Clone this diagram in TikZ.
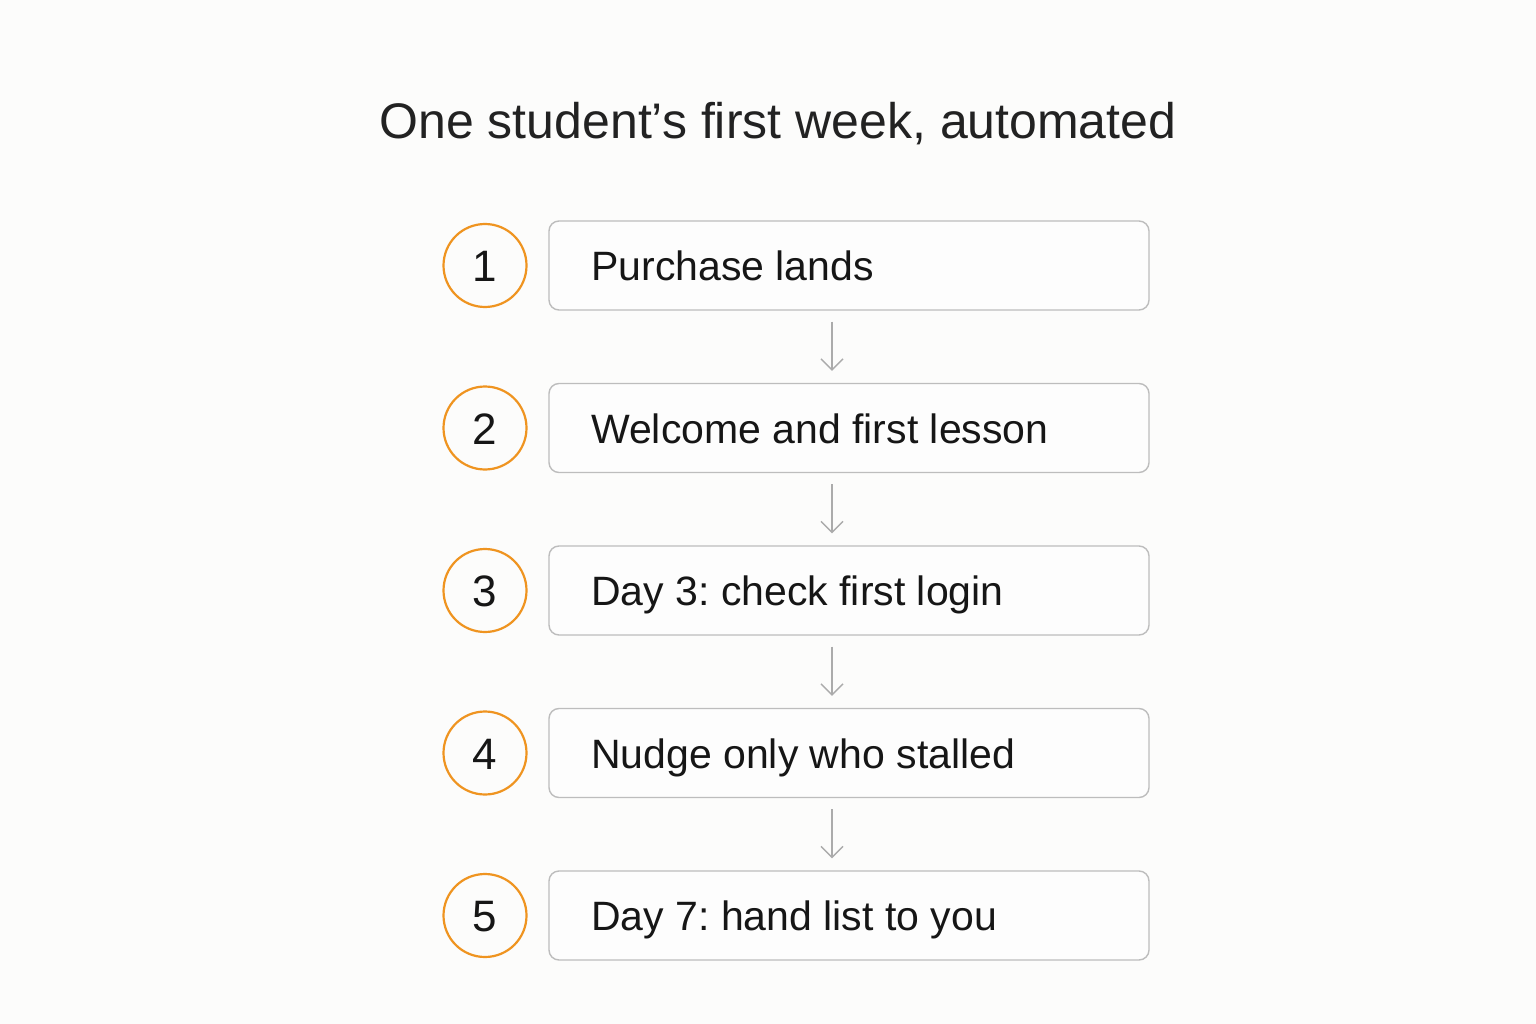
\documentclass[tikz,border=0pt]{standalone}
\usepackage{fontspec}
\setmainfont{Liberation Sans}
\usetikzlibrary{arrows.meta}
\frenchspacing
\definecolor{bgc}{HTML}{FCFCFB}
\definecolor{boxline}{HTML}{BDBDBD}
\definecolor{boxfill}{HTML}{FDFDFD}
\definecolor{orng}{HTML}{EF9420}
\definecolor{txt}{HTML}{161616}
\definecolor{arrc}{HTML}{ABABAB}
\tikzset{
  stepbox/.style={draw=boxline, line width=1.4pt, fill=boxfill, rounded corners=10pt,
    minimum width=600pt, minimum height=89pt, inner sep=0pt},
  numcirc/.style={circle, draw=orng, line width=2.2pt, minimum size=83pt, inner sep=0pt},
  boxtext/.style={anchor=base west, inner sep=0pt, text=txt, font=\fontsize{41}{48}\selectfont},
  numtext/.style={anchor=base, inner sep=0pt, text=txt, font=\fontsize{44}{50}\selectfont},
  arr/.style={draw=arrc, line width=1.4pt, -{Straight Barb[length=11pt,width=22pt,line width=1.4pt]}},
}
\begin{document}
\begin{tikzpicture}[x=1pt,y=-1pt]
\useasboundingbox (0,0) rectangle (1536,1024);
\fill[bgc] (0,0) rectangle (1536,1024);
\node[anchor=base, inner sep=0pt, text=txt!95!white, font=\fontsize{50}{58}\selectfont] (title) at (778,139) {One student’s first week, automated};
\foreach \i/\y/\t in {1/265.5/Purchase lands, 2/428/Welcome and first lesson, 3/590.5/Day 3: check first login, 4/753/Nudge only who stalled, 5/915.5/Day 7: hand list to you}{
  \node[stepbox] (b\i) at (849,\y) {};
  \node[boxtext] (t\i) at (591,\y+15) {\t};
  \node[numcirc] (c\i) at (485,\y) {};
  \node[numtext] (n\i) at (485,\y+16) {\i};
}
\foreach \a/\b in {1/2,2/3,3/4,4/5}{
  \draw[arr] ([xshift=-17pt,yshift=-11pt]b\a.south) -- ([xshift=-17pt,yshift=12pt]b\b.north);
}
\end{tikzpicture}
\end{document}
